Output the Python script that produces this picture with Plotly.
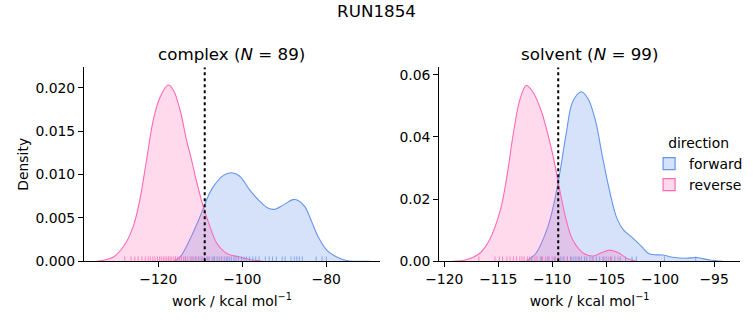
import plotly.graph_objects as go

# ---------------- data ----------------
# complex panel: KDE curves
cx_rev_x = [-134.7, -130.7, -128.3, -126.0, -124.4, -122.8, -121.2, -119.6, -117.6, -116.4,
            -114.8, -113.3, -112.1, -110.9, -109.3, -107.7, -106.1, -103.7, -100.6, -97.4, -95.0]
cx_rev_y = [0.0, 0.0005, 0.0017, 0.0040, 0.0071, 0.0117, 0.0163, 0.0189, 0.0203, 0.0197,
            0.0174, 0.0140, 0.0117, 0.0092, 0.0063, 0.0040, 0.0021, 0.0009, 0.0005, 0.00015, 0.0]
cx_fwd_x = [-116.4, -114.8, -112.5, -110.1, -108.5, -106.9, -104.5, -102.5, -100.6, -98.2,
            -95.8, -93.8, -92.2, -90.2, -87.9, -86.7, -85.1, -83.5, -81.9, -79.9, -77.5, -75.2, -69.6]
cx_fwd_y = [0.0, 0.0005, 0.0025, 0.0051, 0.0071, 0.0086, 0.0099, 0.0102, 0.0098, 0.0082,
            0.0069, 0.0061, 0.0060, 0.0065, 0.0071, 0.0070, 0.0063, 0.0046, 0.0028, 0.0013, 0.0005, 0.0001, 0.0]

# solvent panel: KDE curves
sv_rev_x = [-119.3, -117.9, -116.7, -115.8, -114.8, -114.2, -113.6, -113.0, -112.4, -111.8,
            -111.1, -110.5, -109.9, -109.3, -108.7, -108.1, -107.1, -106.2, -105.4, -104.7,
            -103.9, -103.1, -102.2]
sv_rev_y = [0.0, 0.0006, 0.0026, 0.0069, 0.0165, 0.0272, 0.0411, 0.0519, 0.0565, 0.0545,
            0.0492, 0.0422, 0.0336, 0.0229, 0.0133, 0.0069, 0.0026, 0.0017, 0.0028, 0.0036,
            0.0028, 0.0010, 0.0]
sv_fwd_x = [-112.4, -111.5, -110.5, -109.9, -109.3, -108.7, -108.1, -107.3, -106.7, -106.0,
            -105.4, -104.7, -104.0, -103.4, -102.5, -101.7, -101.0, -99.7, -98.8, -97.6,
            -96.6, -95.4, -94.2]
sv_fwd_y = [0.0, 0.0026, 0.0101, 0.0176, 0.0283, 0.0411, 0.0513, 0.0545, 0.0524, 0.0454,
            0.0347, 0.0229, 0.0138, 0.0101, 0.0074, 0.0047, 0.0024, 0.0020, 0.0013, 0.0010,
            0.0012, 0.0004, 0.0]

# rug samples
cx_rev_rug = [-128.0, -126.5, -125.6, -124.8, -123.9, -123.1, -122.4, -121.9, -121.3, -120.8,
              -120.2, -119.7, -119.3, -118.8, -118.4, -118.0, -117.6, -117.2, -116.8, -116.3,
              -115.9, -115.4, -115.0, -114.5, -114.0, -113.6, -113.0, -112.4, -111.7, -111.0,
              -110.3, -109.5, -108.2, -106.8, -105.0, -103.5]
cx_fwd_rug = [-113.5, -112.0, -111.2, -110.5, -109.8, -109.0, -108.4, -107.9, -107.2, -106.6,
              -106.0, -105.5, -104.9, -104.3, -103.8, -103.1, -102.6, -102.0, -101.5, -100.9,
              -100.2, -99.6, -99.0, -98.3, -97.5, -96.8, -96.0, -94.5, -93.6, -92.8, -91.9,
              -90.5, -89.8, -88.4, -87.6, -87.0, -86.4, -85.7, -82.4, -81.0, -80.0]
sv_rev_rug = [-116.8, -115.3, -114.9, -114.6, -114.2, -113.9, -113.6, -113.3, -113.0, -112.8,
              -112.6, -112.3, -112.1, -111.9, -111.6, -111.4, -111.1, -110.9, -110.6, -110.3,
              -110.0, -109.7, -109.4, -109.0, -108.6, -108.2, -107.6, -106.3, -105.2, -104.8,
              -104.5, -103.9]
sv_fwd_rug = [-111.9, -111.0, -110.4, -109.8, -109.2, -108.9, -108.6, -108.3, -108.0, -107.8,
              -107.5, -107.3, -107.0, -106.8, -106.5, -106.2, -105.9, -105.6, -105.3, -105.0,
              -104.6, -104.2, -103.7, -103.2, -102.6, -102.2, -99.6, -96.7]

# free-energy estimates (dotted lines)
cx_estimate = -108.95
sv_estimate = -109.44

panel_titles = ["complex (<i>N</i> = 89)", "solvent (<i>N</i> = 99)"]
directions = ["forward", "reverse"]
x_ranges = [[-137.7, -67.2], [-120.46, -92.6]]
y_ranges = [[0, 0.02235], [0, 0.06238]]

# ---------------- styling ----------------
FWD = "#6495ED"
REV = "#FF69B4"
FWD_FILL = "rgba(100,149,237,0.27)"
REV_FILL = "rgba(255,105,180,0.25)"
FONT = "DejaVu Sans"
TICK_SIZE = 13.9
TITLE_SIZE = 16.7

fig = go.Figure()

panels = [
    (cx_fwd_x, cx_fwd_y, cx_rev_x, cx_rev_y, cx_fwd_rug, cx_rev_rug, cx_estimate),
    (sv_fwd_x, sv_fwd_y, sv_rev_x, sv_rev_y, sv_fwd_rug, sv_rev_rug, sv_estimate),
]

for i, (fx, fy, rx, ry, frug, rrug, est) in enumerate(panels):
    xa = "x" if i == 0 else "x2"
    ya = "y" if i == 0 else "y2"
    fig.add_trace(go.Scatter(x=fx, y=fy, mode="lines", line=dict(color=FWD, width=1.1, shape="spline", smoothing=1.0),
                             fill="tozeroy", fillcolor=FWD_FILL, showlegend=False, xaxis=xa, yaxis=ya))
    fig.add_trace(go.Scatter(x=rx, y=ry, mode="lines", line=dict(color=REV, width=1.1, shape="spline", smoothing=1.0),
                             fill="tozeroy", fillcolor=REV_FILL, showlegend=False, xaxis=xa, yaxis=ya))
    h = 0.025 * y_ranges[i][1]
    for rug, col in ((frug, "rgba(100,149,237,0.75)"), (rrug, "rgba(255,105,180,0.75)")):
        xs, ys = [], []
        for v in rug:
            xs += [v, v, None]
            ys += [0, h, None]
        fig.add_trace(go.Scatter(x=xs, y=ys, mode="lines", line=dict(color=col, width=1),
                                 showlegend=False, hoverinfo="skip", xaxis=xa, yaxis=ya))
    fig.add_trace(go.Scatter(x=[est, est], y=[0, y_ranges[i][1]], mode="lines",
                             line=dict(color="black", width=2, dash="dot"),
                             showlegend=False, xaxis=xa, yaxis=ya))

# legend entries (patches)
for name, col, fill in ((directions[0], FWD, FWD_FILL), (directions[1], REV, REV_FILL)):
    fig.add_trace(go.Bar(x=[None], y=[None], marker=dict(color=fill, line=dict(color=col, width=1.2)),
                         name=name, xaxis="x2", yaxis="y2"))

axis_common = dict(showline=True, linecolor="black", linewidth=1.1, ticks="outside", ticklen=5,
                   tickwidth=1.1, tickcolor="black", showgrid=False, zeroline=False, automargin=False,
                   tickfont=dict(family=FONT, size=TICK_SIZE, color="black"))

x_domains = [[0.1116, 0.5046], [0.5834, 0.9827]]
y_domain = [0.196, 0.793]

fig.update_layout(
    width=753, height=325, margin=dict(l=0, r=0, t=0, b=0),
    plot_bgcolor="white", paper_bgcolor="white",
    font=dict(family=FONT, size=TICK_SIZE, color="black"),
    xaxis=dict(domain=x_domains[0], range=x_ranges[0], tickvals=[-120, -100, -80], anchor="y",
               title=dict(text="work / kcal mol<sup>−1</sup>", standoff=10, font=dict(size=TICK_SIZE)), **axis_common),
    yaxis=dict(domain=y_domain, range=y_ranges[0], tickvals=[0, 0.005, 0.01, 0.015, 0.02], tickformat=".3f",
               anchor="x", title=dict(text="Density", standoff=3, font=dict(size=TICK_SIZE)), **axis_common),
    xaxis2=dict(domain=x_domains[1], range=x_ranges[1], tickvals=[-120, -115, -110, -105, -100, -95], anchor="y2",
                title=dict(text="work / kcal mol<sup>−1</sup>", standoff=10, font=dict(size=TICK_SIZE)), **axis_common),
    yaxis2=dict(domain=y_domain, range=y_ranges[1], tickvals=[0, 0.02, 0.04, 0.06], tickformat=".2f",
                anchor="x2", **axis_common),
    title=dict(text="RUN1854", x=0.5, xanchor="center", y=1 - 11 / 325, yanchor="middle",
               font=dict(family=FONT, size=TITLE_SIZE, color="black")),
    legend=dict(x=0.862, y=0.6, xanchor="left", yanchor="top", bgcolor="rgba(0,0,0,0)",
                title=dict(text="direction", side="top center", font=dict(size=TICK_SIZE)),
                font=dict(size=TICK_SIZE), itemwidth=30, tracegroupgap=0),
    showlegend=True,
)

for i, t in enumerate(panel_titles):
    fig.add_annotation(text=t, x=sum(x_domains[i]) / 2, y=1 - 54 / 325, xref="paper", yref="paper",
                       xanchor="center", yanchor="middle", showarrow=False,
                       font=dict(family=FONT, size=TITLE_SIZE, color="black"))

fig.write_html("out.html")
